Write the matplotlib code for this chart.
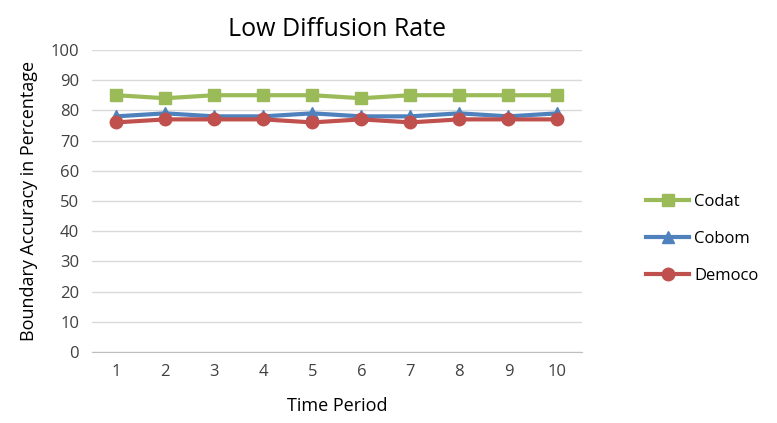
import matplotlib
matplotlib.use('Agg')
import matplotlib.pyplot as plt

# data
periods = [1, 2, 3, 4, 5, 6, 7, 8, 9, 10]
codat = [85, 84, 85, 85, 85, 84, 85, 85, 85, 85]
cobom = [78, 79, 78, 78, 79, 78, 78, 79, 78, 79]
democo = [76, 77, 77, 77, 76, 77, 76, 77, 77, 77]

plt.rcParams['font.family'] = ['Open Sans', 'DejaVu Sans']

fig = plt.figure(figsize=(7.77, 4.23), dpi=100)
ax = fig.add_axes([0.118, 0.168, 0.631, 0.714])

x = list(range(len(periods)))
ax.plot(x, codat, color='#9bbb59', lw=3, marker='s', ms=9, label='Codat')
ax.plot(x, cobom, color='#4f81bd', lw=3, marker='^', ms=9, label='Cobom')
ax.plot(x, democo, color='#c0504d', lw=3, marker='o', ms=9, label='Democo')

ax.set_xlim(-0.5, len(periods) - 0.5)
ax.set_ylim(0, 100)
ax.set_yticks(range(0, 101, 10))
ax.set_xticks(x)
ax.set_xticklabels([str(p) for p in periods])
ax.grid(axis='y', color='#d9d9d9', lw=1)
ax.set_axisbelow(True)
for s in ['top', 'right', 'left']:
    ax.spines[s].set_visible(False)
ax.spines['bottom'].set_color('#bfbfbf')
ax.tick_params(length=0, labelsize=12, colors='#404040', pad=9)

ax.set_title('Low Diffusion Rate', fontsize=18, pad=10)
ax.set_xlabel('Time Period', fontsize=13, labelpad=12)
ax.set_ylabel('Boundary Accuracy in Percentage', fontsize=13, labelpad=9)

ax.legend(loc='center left', bbox_to_anchor=(1.1, 0.375), frameon=False,
          fontsize=12, handlelength=2.6, labelspacing=1.25, handletextpad=0.3)

fig.savefig('out.png', dpi=100)
